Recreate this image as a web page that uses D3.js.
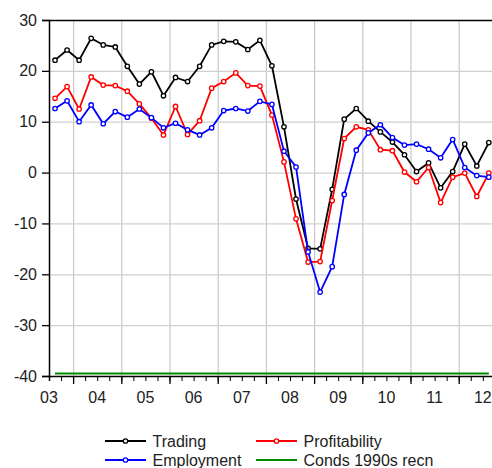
<!DOCTYPE html>
<html>
<head>
<meta charset="utf-8">
<script src="https://cdn.jsdelivr.net/npm/d3@7"></script>
<style>
  body { margin: 0; background: #fff; }
  svg { display: block; font-family: "Liberation Sans", Arial, sans-serif; }
</style>
</head>
<body>
<div id="chart"></div>
<script>
// quarterly survey balances, 2003Q3 - 2012Q3
const quarters = [
  "2003Q3","2003Q4",
  "2004Q1","2004Q2","2004Q3","2004Q4",
  "2005Q1","2005Q2","2005Q3","2005Q4",
  "2006Q1","2006Q2","2006Q3","2006Q4",
  "2007Q1","2007Q2","2007Q3","2007Q4",
  "2008Q1","2008Q2","2008Q3","2008Q4",
  "2009Q1","2009Q2","2009Q3","2009Q4",
  "2010Q1","2010Q2","2010Q3","2010Q4",
  "2011Q1","2011Q2","2011Q3","2011Q4",
  "2012Q1","2012Q2","2012Q3"
];
const trading = [22.1, 24.1, 22.1, 26.4, 25.1, 24.7, 20.9, 17.4, 19.8, 15.1, 18.7, 17.9, 20.9,
  25.1, 25.8, 25.7, 24.2, 26.0, 21.0, 9.0, -5.2, -14.9, -15.0, -3.3, 10.5, 12.6, 10.1, 8.0,
  6.0, 3.5, 0.2, 1.9, -3.0, 0.2, 5.6, 1.3, 5.9];
const profitability = [14.6, 16.9, 12.5, 18.8, 17.2, 17.1, 16.0, 13.5, 10.7, 7.4, 13.0, 7.5, 10.2,
  16.6, 17.9, 19.6, 17.1, 17.0, 11.3, 2.1, -9.1, -17.6, -17.5, -5.5, 6.7, 9.0, 8.4, 4.5,
  4.3, 0.1, -1.8, 1.0, -5.9, -0.9, -0.1, -4.7, -0.1];
const employment = [12.6, 14.1, 10.0, 13.3, 9.6, 12.0, 10.9, 12.5, 10.8, 8.8, 9.7, 8.4, 7.4,
  8.8, 12.2, 12.6, 12.1, 14.0, 13.4, 4.2, 1.1, -15.6, -23.5, -18.5, -4.3, 4.4, 7.8, 9.4,
  6.9, 5.4, 5.6, 4.6, 2.9, 6.5, 1.0, -0.6, -0.9];
const conds1990s = -39.5;
const yTicks = [30, 20, 10, 0, -10, -20, -30, -40];
const years = [2003, 2004, 2005, 2006, 2007, 2008, 2009, 2010, 2011, 2012];
const yearLabels = ["03", "04", "05", "06", "07", "08", "09", "10", "11", "12"];

const W = 492, H = 468;
const plotLeft = 49, plotTop = 20, plotBottom = 376;
const yearPx = 48.2;

// quarter string -> fractional year at the middle of the quarter
const qTime = q => +q.slice(0, 4) + (+q.slice(5) - 1) / 4 + 0.125;

const x = d3.scaleLinear().domain([2003.5, 2012.75]).range([plotLeft, plotLeft + 9.25 * yearPx]);
const y = d3.scaleLinear().domain([-40, 30]).range([plotBottom, plotTop]);
const plotRight = x.range()[1];

const svg = d3.select("#chart").append("svg")
  .attr("width", W).attr("height", H);

// grid
svg.append("g")
  .attr("transform", `translate(0,${plotTop})`)
  .call(d3.axisBottom(x).tickValues(years.slice(1)).tickSize(plotBottom - plotTop).tickFormat(""))
  .call(g => g.select(".domain").remove())
  .call(g => g.selectAll("line").attr("stroke", "#c8c8c8").attr("stroke-width", 1.2));
svg.append("g")
  .attr("transform", `translate(${plotLeft},0)`)
  .call(d3.axisRight(y).tickValues(yTicks.filter(v => v > -40 && v < 30)).tickSize(plotRight - plotLeft).tickFormat(""))
  .call(g => g.select(".domain").remove())
  .call(g => g.selectAll("line").attr("stroke", "#d0d0d0").attr("stroke-width", 1.2));

// frame top
svg.append("line")
  .attr("x1", plotLeft).attr("x2", plotRight).attr("y1", plotTop + 0.5).attr("y2", plotTop + 0.5)
  .attr("stroke", "#000").attr("stroke-width", 1.3);

// series
const series = [
  { name: "Trading", values: trading, color: "#000000" },
  { name: "Profitability", values: profitability, color: "#ff0000" },
  { name: "Employment", values: employment, color: "#0000ff" }
];

const green = "#008a00";
svg.append("line")
  .attr("x1", x(qTime(quarters[0]))).attr("x2", x(qTime(quarters[quarters.length - 1])))
  .attr("y1", y(conds1990s)).attr("y2", y(conds1990s))
  .attr("stroke", green).attr("stroke-width", 2);

const line = d3.line()
  .x((d, i) => x(qTime(quarters[i])))
  .y(d => y(d));

series.forEach(s => {
  const g = svg.append("g");
  g.append("path")
    .datum(s.values)
    .attr("fill", "none")
    .attr("stroke", s.color)
    .attr("stroke-width", 1.8)
    .attr("d", line);
  g.selectAll("circle")
    .data(s.values)
    .enter()
    .append("circle")
    .attr("cx", (d, i) => x(qTime(quarters[i])))
    .attr("cy", d => y(d))
    .attr("r", 2.2)
    .attr("fill", "#fff")
    .attr("stroke", s.color)
    .attr("stroke-width", 1.3);
});

// left axis (plain hyphen for negatives, like the original)
svg.append("g")
  .attr("transform", `translate(${plotLeft},0)`)
  .call(d3.axisLeft(y).tickValues(yTicks).tickSize(7).tickPadding(5).tickFormat(d => String(d)))
  .attr("font-family", null)
  .attr("font-size", null)
  .call(g => g.select(".domain").attr("stroke-width", 1.5))
  .call(g => g.selectAll("line").attr("stroke-width", 1.3))
  .call(g => g.selectAll("text").attr("font-size", 16).attr("fill", "#222"));

// bottom axis: quarter ticks and year ticks
const quarterTicks = d3.range(2003.5, 2012.76, 0.25);
svg.append("g")
  .attr("transform", `translate(0,${plotBottom})`)
  .call(d3.axisBottom(x).tickValues(quarterTicks).tickSize(5).tickFormat(""))
  .call(g => g.select(".domain").attr("stroke-width", 1.5))
  .call(g => g.selectAll("line").attr("stroke-width", 1));
svg.append("g")
  .attr("transform", `translate(0,${plotBottom})`)
  .call(d3.axisBottom(x).tickValues(years.slice(1)).tickSize(8).tickFormat(""))
  .call(g => g.select(".domain").remove())
  .call(g => g.selectAll("line").attr("stroke-width", 1.3));

svg.append("g")
  .selectAll("text")
  .data(years)
  .enter()
  .append("text")
  .attr("x", d => Math.max(x(d + 0.5), plotLeft))
  .attr("y", 403)
  .attr("text-anchor", d => x(d + 0.5) < plotLeft ? "start" : "middle")
  .attr("font-size", 16)
  .attr("fill", "#222")
  .text((d, i) => yearLabels[i]);

// legend
const legendItems = [
  { name: "Trading", color: "#000000", marker: true, lx: 105, ly: 441 },
  { name: "Profitability", color: "#ff0000", marker: true, lx: 256, ly: 441 },
  { name: "Employment", color: "#0000ff", marker: true, lx: 105, ly: 460 },
  { name: "Conds 1990s recn", color: green, marker: false, lx: 256, ly: 460 }
];
const lg = svg.append("g").selectAll("g").data(legendItems).enter().append("g")
  .attr("transform", d => `translate(${d.lx},${d.ly})`);
lg.append("line")
  .attr("x1", 0).attr("x2", 41).attr("y1", 0).attr("y2", 0)
  .attr("stroke", d => d.color).attr("stroke-width", 1.8);
lg.filter(d => d.marker).append("circle")
  .attr("cx", 20.5).attr("cy", 0).attr("r", 2.2)
  .attr("fill", "#fff").attr("stroke", d => d.color).attr("stroke-width", 1.3);
lg.append("text")
  .attr("x", 47.5).attr("y", 6)
  .attr("font-size", 16).attr("fill", "#222")
  .text(d => d.name);
</script>
</body>
</html>
